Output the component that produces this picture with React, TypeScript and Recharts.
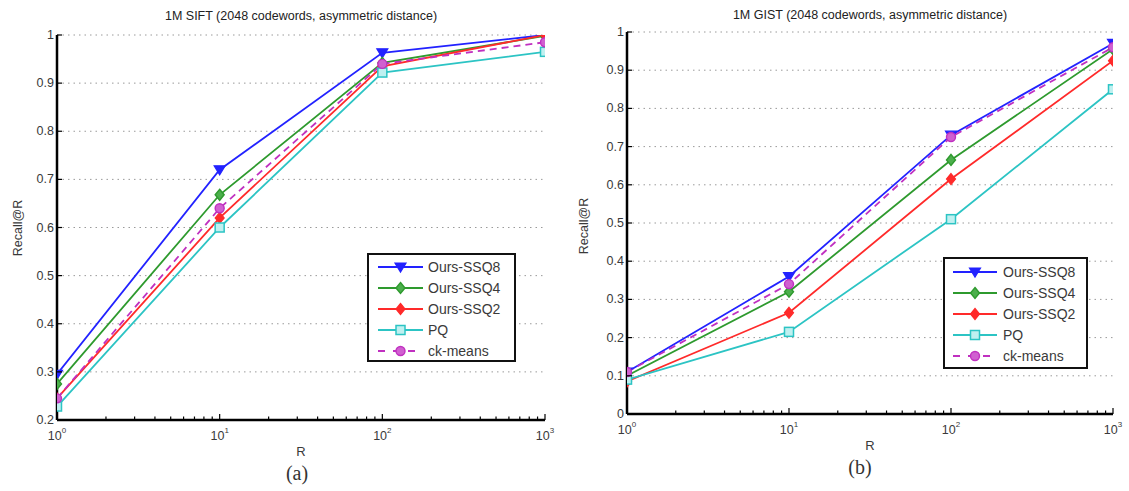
import React from 'react';
import { LineChart, Line, XAxis, YAxis, CartesianGrid } from 'recharts';

// ---- data ----
const rValues = [1, 10, 100, 1000];

const siftSSQ8 = [0.295, 0.72, 0.963, 1.0];
const siftSSQ4 = [0.275, 0.668, 0.942, 0.998];
const siftSSQ2 = [0.245, 0.62, 0.935, 1.0];
const siftPQ = [0.228, 0.6, 0.922, 0.965];
const siftCK = [0.245, 0.64, 0.94, 0.985];

const gistSSQ8 = [0.11, 0.36, 0.73, 0.97];
const gistSSQ4 = [0.1, 0.32, 0.665, 0.955];
const gistSSQ2 = [0.085, 0.265, 0.615, 0.925];
const gistPQ = [0.09, 0.215, 0.51, 0.85];
const gistCK = [0.11, 0.34, 0.725, 0.96];

const seriesNames = ['Ours-SSQ8', 'Ours-SSQ4', 'Ours-SSQ2', 'PQ', 'ck-means'];
const seriesKeys = ['ssq8', 'ssq4', 'ssq2', 'pq', 'ck'];

const siftYTicks = [0.2, 0.3, 0.4, 0.5, 0.6, 0.7, 0.8, 0.9, 1];
const gistYTicks = [0, 0.1, 0.2, 0.3, 0.4, 0.5, 0.6, 0.7, 0.8, 0.9, 1];
const xMajorTicks = [1, 10, 100, 1000];
const xAllTicks = [1, 2, 3, 4, 5, 6, 7, 8, 9, 10, 20, 30, 40, 50, 60, 70, 80, 90, 100, 200, 300, 400, 500, 600, 700, 800, 900, 1000];

const siftTitle = '1M SIFT (2048 codewords, asymmetric distance)';
const gistTitle = '1M GIST (2048 codewords, asymmetric distance)';

const buildRows = (a: number[], b: number[], c: number[], d: number[], e: number[]) =>
  rValues.map((x, i) => ({ x, ssq8: a[i], ssq4: b[i], ssq2: c[i], pq: d[i], ck: e[i] }));

const siftData = buildRows(siftSSQ8, siftSSQ4, siftSSQ2, siftPQ, siftCK);
const gistData = buildRows(gistSSQ8, gistSSQ4, gistSSQ2, gistPQ, gistCK);

// ---- styles ----
const COLORS: Record<string, string> = {
  ssq8: '#2222ff',
  ssq4: '#2e9a2e',
  ssq2: '#ff2a2a',
  pq: '#2cc4c4',
  ck: '#c030c0',
};
const FONT = '"Liberation Sans", Arial, sans-serif';
const TEXT = '#3a3a3a';

function Marker({ k, cx, cy }: { k: string; cx: number; cy: number }) {
  const c = COLORS[k];
  if (k === 'ssq8') {
    return <polygon points={`${cx - 5.5},${cy - 4} ${cx + 5.5},${cy - 4} ${cx},${cy + 5}`} fill={c} stroke={c} strokeWidth={1.2} />;
  }
  if (k === 'ssq4') {
    return <polygon points={`${cx},${cy - 5.5} ${cx + 4.5},${cy} ${cx},${cy + 5.5} ${cx - 4.5},${cy}`} fill="#4caf4c" stroke={c} strokeWidth={1.4} />;
  }
  if (k === 'ssq2') {
    return <polygon points={`${cx},${cy - 5.5} ${cx + 4.5},${cy} ${cx},${cy + 5.5} ${cx - 4.5},${cy}`} fill={c} stroke={c} strokeWidth={1.2} />;
  }
  if (k === 'pq') {
    return <rect x={cx - 4.5} y={cy - 4.5} width={9} height={9} fill="#bff0f0" stroke={c} strokeWidth={1.5} />;
  }
  return <circle cx={cx} cy={cy} r={4.5} fill="#d060d0" stroke={c} strokeWidth={1.4} />;
}

const makeDot = (k: string) => (props: any) => {
  const { cx, cy, index } = props;
  if (cx == null || cy == null) return <g key={`${k}-${index}`} />;
  return (
    <g key={`${k}-${index}`}>
      <Marker k={k} cx={cx} cy={cy} />
    </g>
  );
};

const isMajor = (v: number) => xMajorTicks.includes(v);

const BottomTick = (props: any) => {
  const { x, y, payload } = props;
  const v = payload.value as number;
  const major = isMajor(v);
  const len = major ? 6 : 3.5;
  const exp = Math.round(Math.log10(v));
  return (
    <g>
      <line x1={x} y1={y} x2={x} y2={y - len} stroke="#000" strokeWidth={1.2} />
      {major && (
        <text x={x} y={y + 20} textAnchor="middle" fontFamily={FONT} fontSize={12.5} fill={TEXT}>
          <tspan>10</tspan>
          <tspan dy={-7} fontSize={8}>{exp}</tspan>
        </text>
      )}
    </g>
  );
};

const TopTick = (props: any) => {
  const { x, y, payload } = props;
  const v = payload.value as number;
  const len = isMajor(v) ? 6 : 3.5;
  return <line x1={x} y1={y} x2={x} y2={y + len} stroke="#000" strokeWidth={1.2} />;
};

const LeftTick = (props: any) => {
  const { x, y, payload } = props;
  const v = payload.value as number;
  return (
    <g>
      <line x1={x} y1={y} x2={x + 5} y2={y} stroke="#000" strokeWidth={1.2} />
      <text x={x - 3} y={y + 4} textAnchor="end" fontFamily={FONT} fontSize={12.5} fill={TEXT}>
        {String(v)}
      </text>
    </g>
  );
};

const RightTick = (props: any) => {
  const { x, y } = props;
  return <line x1={x} y1={y} x2={x - 5} y2={y} stroke="#000" strokeWidth={1.2} />;
};

type PanelProps = {
  left: number;
  width: number;
  data: any[];
  yDomain: [number, number];
  yTicks: number[];
  margin: { top: number; right: number; bottom: number; left: number };
};

function Panel({ left, width, data, yDomain, yTicks, margin }: PanelProps) {
  return (
    <div style={{ position: 'absolute', left, top: 0 }}>
      <LineChart width={width} height={491} data={data} margin={margin}>
        <CartesianGrid xAxisId="b" yAxisId="l" vertical={false} stroke="#9a9a9a" strokeDasharray="1.5 4" />
        <XAxis
          xAxisId="b"
          dataKey="x"
          type="number"
          scale="log"
          domain={[1, 1000]}
          ticks={xAllTicks}
          interval={0}
          tickLine={false}
          tickSize={0}
          tickMargin={0}
          height={30}
          axisLine={{ stroke: '#000', strokeWidth: 2.5 }}
          tick={<BottomTick />}
          allowDataOverflow
        />
        <XAxis
          xAxisId="t"
          orientation="top"
          dataKey="x"
          type="number"
          scale="log"
          domain={[1, 1000]}
          ticks={xAllTicks}
          interval={0}
          tickLine={false}
          tickSize={0}
          tickMargin={0}
          height={0}
          axisLine={{ stroke: '#000', strokeWidth: 2 }}
          tick={<TopTick />}
          allowDataOverflow
        />
        <YAxis
          yAxisId="l"
          type="number"
          domain={yDomain}
          ticks={yTicks}
          interval={0}
          tickLine={false}
          tickSize={0}
          tickMargin={0}
          width={40}
          axisLine={{ stroke: '#000', strokeWidth: 2.5 }}
          tick={<LeftTick />}
          allowDataOverflow
        />
        <YAxis
          yAxisId="r"
          orientation="right"
          type="number"
          domain={yDomain}
          ticks={yTicks}
          interval={0}
          tickLine={false}
          tickSize={0}
          tickMargin={0}
          width={0}
          axisLine={{ stroke: '#000', strokeWidth: 2.5 }}
          tick={<RightTick />}
          allowDataOverflow
        />
        {seriesKeys.map((k, i) => (
          <Line
            key={k}
            xAxisId="b"
            yAxisId="l"
            type="linear"
            dataKey={k}
            name={seriesNames[i]}
            stroke={COLORS[k]}
            strokeWidth={1.8}
            strokeDasharray={k === 'ck' ? '7 5' : undefined}
            dot={makeDot(k)}
            activeDot={false}
            isAnimationActive={false}
          />
        ))}
      </LineChart>
    </div>
  );
}

type LegendBoxProps = {
  left: number;
  top: number;
  width: number;
  height: number;
  rowTop: number;
  rowGap: number;
  lineX0: number;
  lineX1: number;
  textX: number;
};

function LegendBox({ left, top, width, height, rowTop, rowGap, lineX0, lineX1, textX }: LegendBoxProps) {
  return (
    <div
      style={{
        position: 'absolute',
        left,
        top,
        width,
        height,
        border: '2px solid #111',
        background: '#fff',
        boxSizing: 'border-box',
      }}
    >
      <svg width={width - 4} height={height - 4} style={{ position: 'absolute', left: 0, top: 0 }}>
        {seriesKeys.map((k, i) => {
          const cy = rowTop + i * rowGap;
          const mid = (lineX0 + lineX1) / 2;
          return (
            <g key={k}>
              <line
                x1={lineX0}
                y1={cy}
                x2={lineX1}
                y2={cy}
                stroke={COLORS[k]}
                strokeWidth={1.8}
                strokeDasharray={k === 'ck' ? '7 8' : undefined}
              />
              <Marker k={k} cx={mid} cy={cy} />
              <text x={textX} y={cy + 5} fontFamily={FONT} fontSize={14} fill={TEXT}>
                {seriesNames[i]}
              </text>
            </g>
          );
        })}
      </svg>
    </div>
  );
}

const abs = (style: React.CSSProperties): React.CSSProperties => ({ position: 'absolute', whiteSpace: 'nowrap', ...style });

export default function App() {
  return (
    <div style={{ position: 'absolute', left: 0, top: 0, width: 1129, height: 491, background: '#fff', overflow: 'hidden' }}>
      <Panel
        left={0}
        width={560}
        data={siftData}
        yDomain={[0.2, 1]}
        yTicks={siftYTicks}
        margin={{ top: 35, right: 15, bottom: 41, left: 17 }}
      />
      <Panel
        left={560}
        width={569}
        data={gistData}
        yDomain={[0, 1]}
        yTicks={gistYTicks}
        margin={{ top: 32, right: 16, bottom: 47, left: 27 }}
      />

      {/* titles */}
      <div style={abs({ left: 301, top: 9, transform: 'translateX(-50%)', fontFamily: FONT, fontSize: 12.5, color: '#222' })}>{siftTitle}</div>
      <div style={abs({ left: 870, top: 8, transform: 'translateX(-50%)', fontFamily: FONT, fontSize: 12.5, color: '#222' })}>{gistTitle}</div>

      {/* axis labels */}
      <div style={abs({ left: 301, top: 444, transform: 'translateX(-50%)', fontFamily: FONT, fontSize: 13, color: TEXT })}>R</div>
      <div style={abs({ left: 870, top: 438, transform: 'translateX(-50%)', fontFamily: FONT, fontSize: 13, color: TEXT })}>R</div>
      <div style={abs({ left: 18, top: 228, transform: 'translate(-50%, -50%) rotate(-90deg)', fontFamily: FONT, fontSize: 12.5, color: TEXT })}>Recall@R</div>
      <div style={abs({ left: 584, top: 226, transform: 'translate(-50%, -50%) rotate(-90deg)', fontFamily: FONT, fontSize: 12.5, color: TEXT })}>Recall@R</div>

      {/* sub captions */}
      <div style={abs({ left: 297, top: 462, transform: 'translateX(-50%)', fontFamily: '"Liberation Serif", "DejaVu Serif", serif', fontSize: 20, color: '#333' })}>(a)</div>
      <div style={abs({ left: 860, top: 456, transform: 'translateX(-50%)', fontFamily: '"Liberation Serif", "DejaVu Serif", serif', fontSize: 20, color: '#333' })}>(b)</div>

      {/* legends */}
      <LegendBox left={367} top={253} width={149} height={109} rowTop={12} rowGap={21} lineX0={9} lineX1={54} textX={59} />
      <LegendBox left={943} top={257} width={145} height={112} rowTop={13} rowGap={21} lineX0={8} lineX1={52} textX={58} />
    </div>
  );
}
